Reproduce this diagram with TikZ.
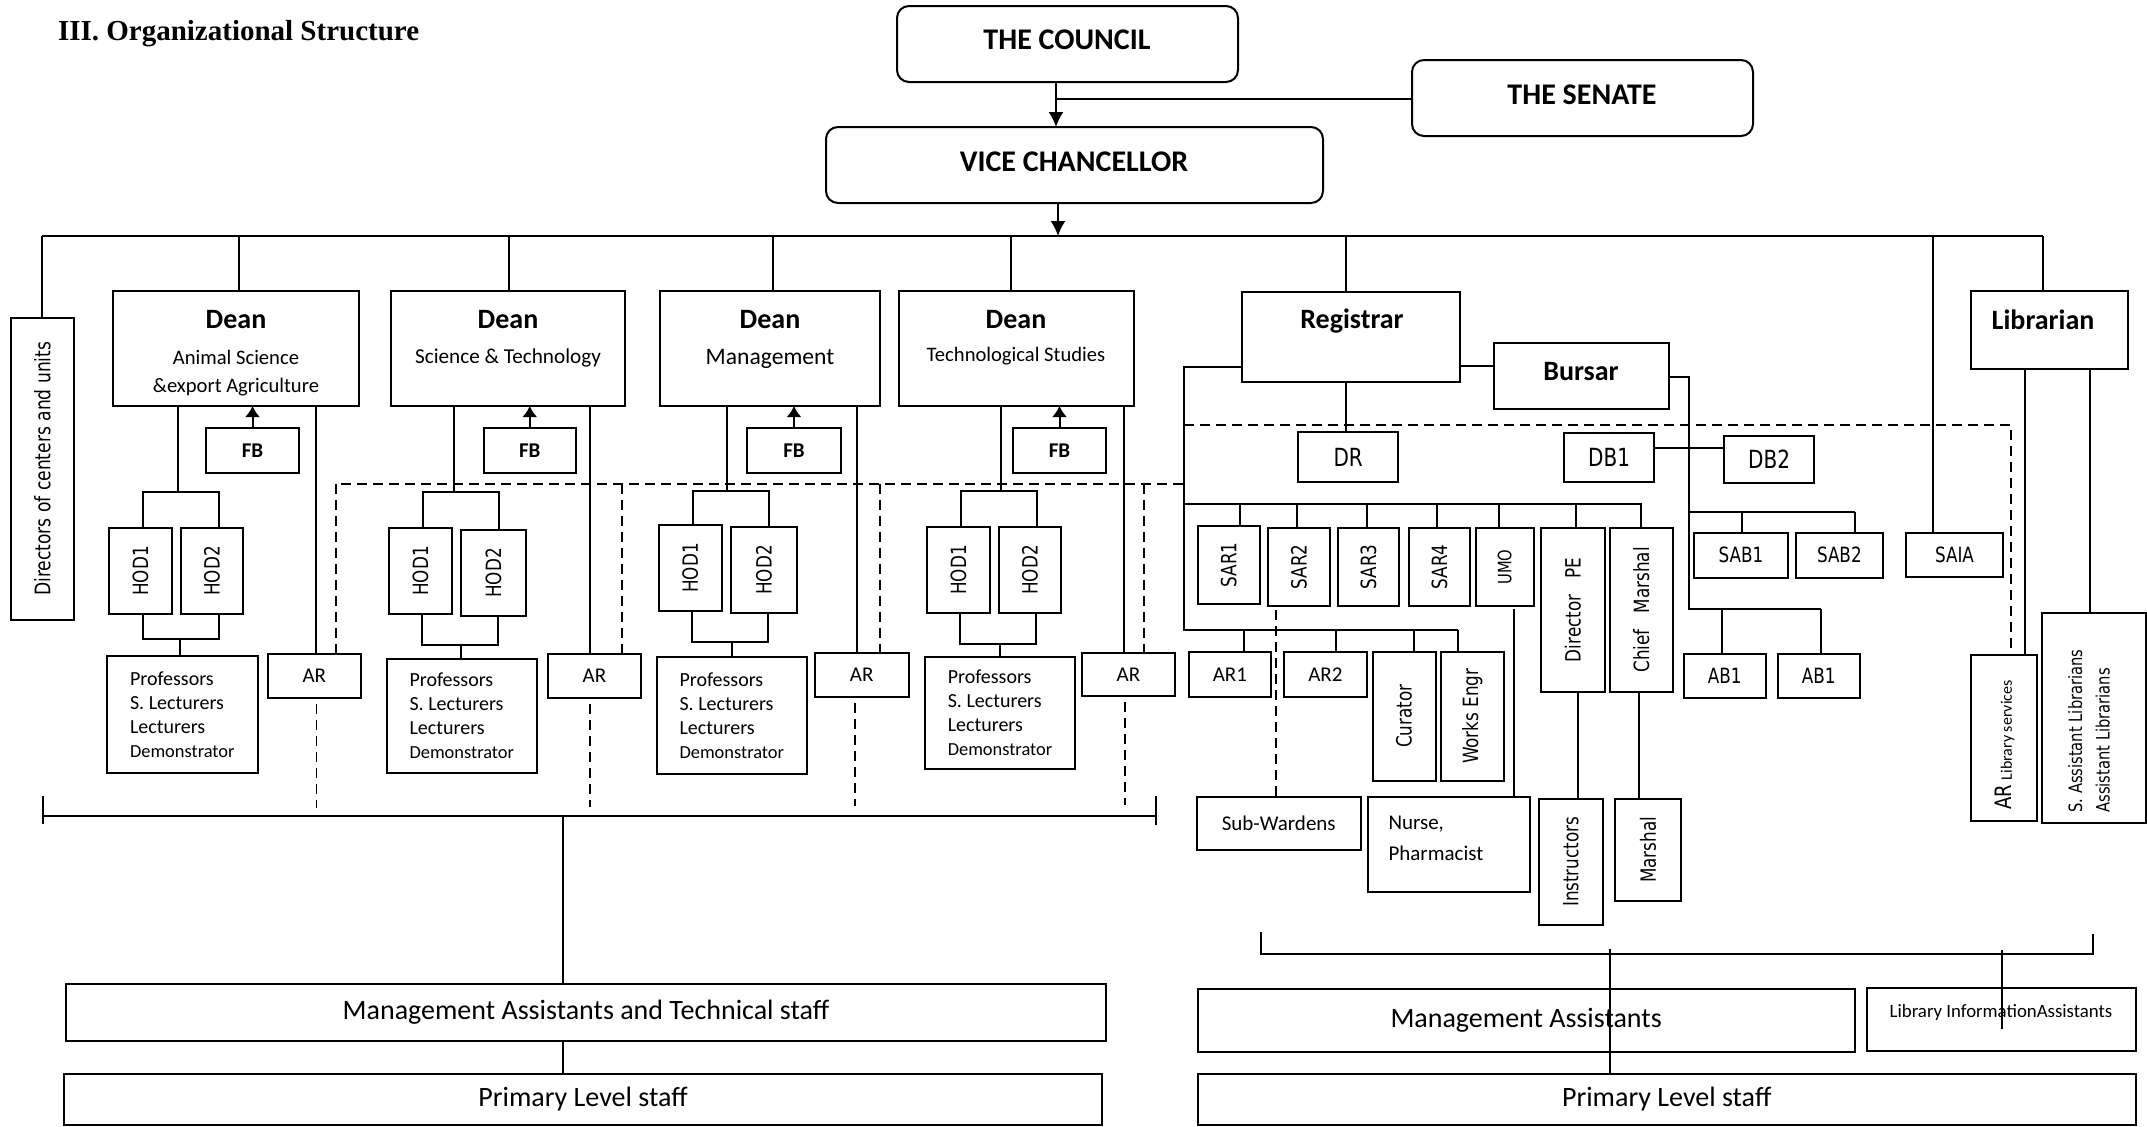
\documentclass[tikz,border=0pt]{standalone}
\usepackage{fontspec}
\setmainfont{Carlito}
\newfontfamily\vf[FakeStretch=0.8]{DejaVu Sans}
\newfontfamily\ttl{Liberation Serif}
\usetikzlibrary{arrows.meta}
\newcommand{\bx}[7][]{\node[box,minimum width={(#4-#2)*0.5pt},minimum height={(#5-#3)*0.5pt},#1] (#6) at ({(#2+#4)/2},{(#3+#5)/2}) {#7};}
\newcommand{\fs}[1]{\fontsize{#1}{#1}\selectfont}
\newcommand{\rt}[1]{\rotatebox{90}{#1}}
\begin{document}
\begin{tikzpicture}[x=0.5pt,y=-0.5pt,
 box/.style={draw,line width=1pt,inner sep=0pt,outer sep=0pt,align=center,font=\fs{10.5}},
 rbox/.style={box,rounded corners=6pt},
 ln/.style={line width=1pt},
 bus/.style={line width=1.3pt},
 dsh/.style={line width=0.9pt,dash pattern=on 5pt off 3pt},
 arr/.style={ln,-{Latex[length=7.5pt,width=7.5pt]}},
 farr/.style={ln,-{Latex[length=5.5pt,width=7.5pt]}},
 lbl/.style={inner sep=0pt,outer sep=0pt},
 vt/.style={font=\vf\fs{10.5}},
 hb/.style={lbl,font=\bfseries\fs{15}},
 db/.style={lbl,font=\bfseries\fs{14}},
 ds/.style={lbl,font=\fs{10.3}},
 fb/.style={box,font=\bfseries\fs{10.5}},
 pf/.style={box,align=left,font=\fontsize{10}{12}\selectfont},
]
\useasboundingbox (0,0) rectangle (2147,1126);

% title
\node[lbl,anchor=west,font=\ttl\bfseries\fs{14.5}] (title) at (58,34) {III. Organizational Structure};

% top
\bx[rbox]{897}{6}{1238}{82}{council}{}
\node[hb] (councilt) at (1067,40) {THE COUNCIL};
\bx[rbox]{1412}{60}{1753}{136}{senate}{}
\node[hb] (senatet) at (1582,95) {THE SENATE};
\bx[rbox]{826}{127}{1323}{203}{vc}{}
\node[hb] (vct) at (1074,162) {VICE CHANCELLOR};
\draw[arr] (council.south -| 1056,0) -- (vc.north -| 1056,0);
\draw[ln] (senate.west |- 0,99) -- (1056,99);
\draw[arr] (vc.south -| 1058,0) -- (1058,236);
\draw[bus] (42,236) -- (2043,236);

% directors
\bx{11}{317.5}{74}{620}{dir}{\rt{\vf\fs{10.7}Directors of centers and units}}
\draw[ln] (42,236) -- (dir.north -| 42,0);

% deans
\bx{112.5}{291}{359}{406}{dean1}{}
\bx{390.6}{291}{625}{406}{dean2}{}
\bx{659.7}{291}{880}{406}{dean3}{}
\bx{899}{291}{1133.5}{406}{dean4}{}
\draw[ln] (238.5,236) -- (dean1.north -| 238.5,0);
\draw[ln] (508.6,236) -- (dean2.north -| 508.6,0);
\draw[ln] (773,236) -- (dean3.north -| 773,0);
\draw[ln] (1011,236) -- (dean4.north -| 1011,0);
\node[db] (d1a) at (236,320) {Dean};
\node[ds] (d1b) at (236,357) {Animal Science};
\node[ds] (d1c) at (236,387) {\&export Agriculture};
\node[db] (d2a) at (508,320) {Dean};
\node[ds,font=\fs{10.6}] (d2b) at (508,357.5) {Science \& Technology};
\node[db] (d3a) at (770,320) {Dean};
\node[ds,font=\fs{11.8}] (d3b) at (770,359) {Management};
\node[db] (d4a) at (1016,320) {Dean};
\node[ds] (d4b) at (1016,356) {Technological Studies};

% FB
\bx[fb]{206}{428}{299}{472.5}{fb1}{FB}
\bx[fb]{483.5}{428}{576}{473}{fb2}{FB}
\bx[fb]{747}{428}{841}{472.5}{fb3}{FB}
\bx[fb]{1013}{428}{1106}{472.5}{fb4}{FB}
\foreach \f/\d in {fb1/dean1,fb2/dean2,fb3/dean3,fb4/dean4}
  \draw[farr] (\f.north) -- (\f.north |- \d.south);

% HODs
\bx{109}{528}{172}{614}{hod11}{\rt{\vf\fs{10.5}HOD1}}
\bx{181}{528}{243}{614}{hod12}{\rt{\vf\fs{10.5}HOD2}}
\bx{389}{528}{452}{614}{hod21}{\rt{\vf\fs{10.5}HOD1}}
\bx{461}{530}{526}{616}{hod22}{\rt{\vf\fs{10.5}HOD2}}
\bx{658.6}{525}{721.7}{611}{hod31}{\rt{\vf\fs{10.5}HOD1}}
\bx{731}{527}{796.7}{613}{hod32}{\rt{\vf\fs{10.5}HOD2}}
\bx{927}{527}{990}{613}{hod41}{\rt{\vf\fs{10.5}HOD1}}
\bx{999}{527}{1061}{613}{hod42}{\rt{\vf\fs{10.5}HOD2}}

% professors
\newcommand{\prof}{Professors\\S. Lecturers\\Lecturers\\{\fontsize{9.2}{12}\selectfont Demonstrator}}
\bx[pf]{107}{656}{257.6}{772.5}{prof1}{\prof}
\bx[pf]{387}{658.6}{536.6}{773}{prof2}{\prof}
\bx[pf]{656.6}{657}{807}{773.6}{prof3}{\prof}
\bx[pf]{925}{657}{1075}{769}{prof4}{\prof}

% AR faculty
\bx{268}{654}{360.7}{697.5}{ar1}{AR}
\bx{548}{654}{641}{698}{ar2}{AR}
\bx{815}{653}{908.5}{697}{ar3}{AR}
\bx{1082}{653}{1175}{696}{ar4}{AR}

% dean 1 connectors
\draw[ln] (dean1.south -| 178,0) -- (178,492);
\draw[ln] (hod11.north -| 143,0) -- (143,492) -- (219,492) -- (hod12.north -| 219,0);
\draw[ln] (hod11.south -| 143,0) -- (143,639) -- (219,639) -- (hod12.south -| 219,0);
\draw[ln] (180,639) -- (prof1.north -| 180,0);
\draw[ln] (dean1.south -| 316,0) -- (ar1.north -| 316,0);
\draw[dsh] ([yshift=-3pt]ar1.south -| 316.5,0) -- (316.5,807.5);
% dean 2
\draw[ln] (dean2.south -| 453.6,0) -- (453.6,492);
\draw[ln] (hod21.north -| 423,0) -- (423,492) -- (499,492) -- (hod22.north -| 499,0);
\draw[ln] (hod21.south -| 422,0) -- (422,645) -- (498,645) -- (hod22.south -| 498,0);
\draw[ln] (461,645) -- (prof2.north -| 461,0);
\draw[ln] (dean2.south -| 590,0) -- (ar2.north -| 590,0);
\draw[dsh] ([yshift=-3pt]ar2.south -| 590,0) -- (590,807);
% dean 3
\draw[ln] (dean3.south -| 727.4,0) -- (727.4,491.4);
\draw[ln] (hod31.north -| 692.6,0) -- (692.6,491.4) -- (768.8,491.4) -- (hod32.north -| 768.8,0);
\draw[ln] (hod31.south -| 692,0) -- (692,642) -- (768,642) -- (hod32.south -| 768,0);
\draw[ln] (731.6,642) -- (prof3.north -| 731.6,0);
\draw[ln] (dean3.south -| 856.8,0) -- (ar3.north -| 856.8,0);
\draw[dsh] ([yshift=-3pt]ar3.south -| 855,0) -- (855,805.7);
% dean 4
\draw[ln] (dean4.south -| 1001,0) -- (1001,491);
\draw[ln] (hod41.north -| 961,0) -- (961,491) -- (1037,491) -- (hod42.north -| 1037,0);
\draw[ln] (hod41.south -| 960,0) -- (960,644) -- (1036,644) -- (hod42.south -| 1036,0);
\draw[ln] (1000,644) -- (prof4.north -| 1000,0);
\draw[ln] (dean4.south -| 1123.5,0) -- (ar4.north -| 1123.5,0);
\draw[dsh] ([yshift=-3pt]ar4.south -| 1125,0) -- (1125,805);

% dashed AR link
\draw[dsh] (ar1.north -| 335.7,0) -- (335.7,483.6) -- (1184,483.6);
\draw[dsh] (622,483.6) -- (ar2.north -| 622,0);
\draw[dsh] (880,483.6) -- (ar3.north -| 880,0);
\draw[dsh] (1144,483.6) -- (ar4.north -| 1144,0);

% bottom left
\draw[ln,line width=1.2pt] (42.5,816) -- (1156,816);
\draw[ln] (42.5,796) -- (42.5,824);
\draw[ln] (1156,796) -- (1156,825);
\bx[font=\fs{14}]{66}{984}{1106}{1041}{mats}{Management Assistants and Technical staff}
\bx[font=\fs{14}]{64}{1074}{1102}{1125}{prim1}{Primary Level staff}
\draw[ln] (562.5,816) -- (mats.north -| 562.5,0);
\draw[ln] (mats.south -| 562.5,0) -- (prim1.north -| 562.5,0);

% registrar & bursar
\bx{1242}{291.7}{1460}{381.7}{reg}{}
\node[db] (regt) at (1352,320.7) {Registrar};
\bx{1493.7}{343}{1668.6}{409}{bur}{}
\node[db] (burt) at (1581,372) {Bursar};
\draw[ln] (1346,236) -- (reg.north -| 1346,0);
\draw[ln] (reg.east |- 0,366) -- (bur.west |- 0,366);
\bx[vt,font=\vf\fs{12.5}]{1298}{432}{1398.4}{482}{dr}{DR}
\bx[vt,font=\vf\fs{12.5}]{1563.7}{433}{1654.4}{481.7}{db1}{DB1}
\bx[vt,font=\vf\fs{12.5}]{1724}{435.7}{1814.3}{483}{db2}{DB2}
\draw[ln] (reg.south -| 1346,0) -- (dr.north -| 1346,0);
\draw[ln] (db1.east |- 0,448) -- (db2.west |- 0,448);

% dashed right
\draw[dsh] (1184,425) -- (2010.7,425) -- (2010.7,655);

% registrar subtree
\bx[vt]{1197.8}{526}{1259.8}{604}{sar1}{\rt{SAR1}}
\bx[vt]{1268}{528}{1330}{606}{sar2}{\rt{SAR2}}
\bx[vt]{1338}{528}{1399}{606}{sar3}{\rt{SAR3}}
\bx[vt]{1408.7}{528}{1470}{606}{sar4}{\rt{SAR4}}
\bx[vt,font=\vf\fs{9.2}]{1475.7}{528}{1533.5}{606}{umo}{\rt{UMO}}
\bx[vt]{1541}{528}{1604.6}{692}{dpe}{\rt{Director\ \ \ PE}}
\bx[vt]{1610}{528}{1672.8}{692}{cm}{\rt{Chief\ \ \ Marshal}}
\draw[ln] (reg.west |- 0,366.7) -- (1184,366.7) -- (1184,630) -- (1457.7,630);
\draw[ln] (1184,504) -- (1641,504) -- (cm.north -| 1641,0);
\foreach \n/\xx in {sar1/1240,sar2/1297,sar3/1367,sar4/1437,umo/1499,dpe/1576}
  \draw[ln] (\xx,504) -- (\n.north -| \xx,0);

\bx{1188.8}{652}{1271}{696.6}{ar1r}{AR1}
\bx{1284}{652}{1366.8}{696.6}{ar2r}{AR2}
\bx[vt]{1372.5}{652}{1435.5}{780.5}{cur}{\rt{Curator}}
\bx[vt]{1441}{652}{1503.5}{780.5}{works}{\rt{Works Engr}}
\foreach \n/\xx in {ar1r/1244,ar2r/1335.7,cur/1414,works/1457.7}
  \draw[ln] (\xx,630) -- (\n.north -| \xx,0);

\bx{1197}{797}{1360.5}{850}{subw}{Sub-Wardens}
\bx{1367.5}{797}{1530}{891.5}{nurse}{}
\node[lbl,anchor=west,align=left,font=\fontsize{10.5}{15.5}\selectfont] (nurset) at (1388.5,838.5) {Nurse,\\Pharmacist};
\bx[vt]{1539}{798.6}{1602.7}{925}{instr}{\rt{Instructors}}
\bx[vt]{1615}{799}{1681}{900.6}{mar}{\rt{Marshal}}
\draw[dsh] ([yshift=-2pt]sar2.south -| 1276,0) -- (subw.north -| 1276,0);
\draw[ln] ([yshift=-1.5pt]umo.south -| 1514,0) -- (nurse.north -| 1514,0);
\draw[ln] (dpe.south -| 1578,0) -- (instr.north -| 1578,0);
\draw[ln] (cm.south -| 1639,0) -- (mar.north -| 1639,0);

% bursar subtree
\bx[vt]{1694}{532.5}{1788}{578}{sab1}{SAB1}
\bx[vt]{1796}{532.5}{1882.7}{578}{sab2}{SAB2}
\bx[vt]{1684}{654}{1765.5}{698}{ab1a}{AB1}
\bx[vt]{1778}{654}{1859.6}{698}{ab1b}{AB1}
\draw[ln] (bur.east |- 0,377) -- (1688.5,377) -- (1688.5,609) -- (1821,609);
\draw[ln] (1688.5,512) -- (1855,512);
\draw[ln] (1741.7,512) -- (sab1.north -| 1741.7,0);
\draw[ln] (1855,512) -- (sab2.north -| 1855,0);
\draw[ln] (1722,609) -- (ab1a.north -| 1722,0);
\draw[ln] (1821,609) -- (ab1b.north -| 1821,0);

% SAIA & librarian
\bx[vt]{1906}{533}{2003}{577.3}{saia}{SAIA}
\draw[ln] (1933,236) -- (saia.north -| 1933,0);
\bx{1970.7}{291}{2127.7}{368.7}{lib}{}
\node[db] (libt) at (2043,319.7) {Librarian};
\draw[ln] (2043,236) -- (lib.north -| 2043,0);
\bx{1971}{655}{2036.7}{821}{arlib}{}
\node[lbl,rotate=90] (arlibt) at (2005,745) {{\vf\fs{11.3}AR} {\fs{8}Library services}};
\bx{2042.3}{613}{2146}{823}{sal}{}
\node[lbl,rotate=90,align=left,font=\vf\fontsize{9.2}{13.85}\selectfont] (salt) at (2089,731) {S. Assistant Librarians\\Assistant Librarians};
\draw[ln] (lib.south -| 2024.7,0) -- (arlib.north -| 2024.7,0);
\draw[ln] (lib.south -| 2090,0) -- (sal.north -| 2090,0);

% bottom right
\bx[font=\fs{14}]{1197.7}{989}{1854.5}{1052}{ma}{Management Assistants}
\bx{1866.6}{988}{2135.6}{1050.5}{lia}{}
\node[lbl,font=\fs{9.4}] (liat) at (2001,1012) {Library InformationAssistants};
\bx[font=\fs{14}]{1197.7}{1073.6}{2135.6}{1125}{prim2}{Primary Level staff}
\draw[ln] (1261,932) -- (1261,954) -- (2092.7,954) -- (2092.7,934);
\draw[ln] (1610,949) -- (prim2.north -| 1610,0);
\draw[ln] (2002,950) -- (2002,1029);
\end{tikzpicture}
\end{document}
